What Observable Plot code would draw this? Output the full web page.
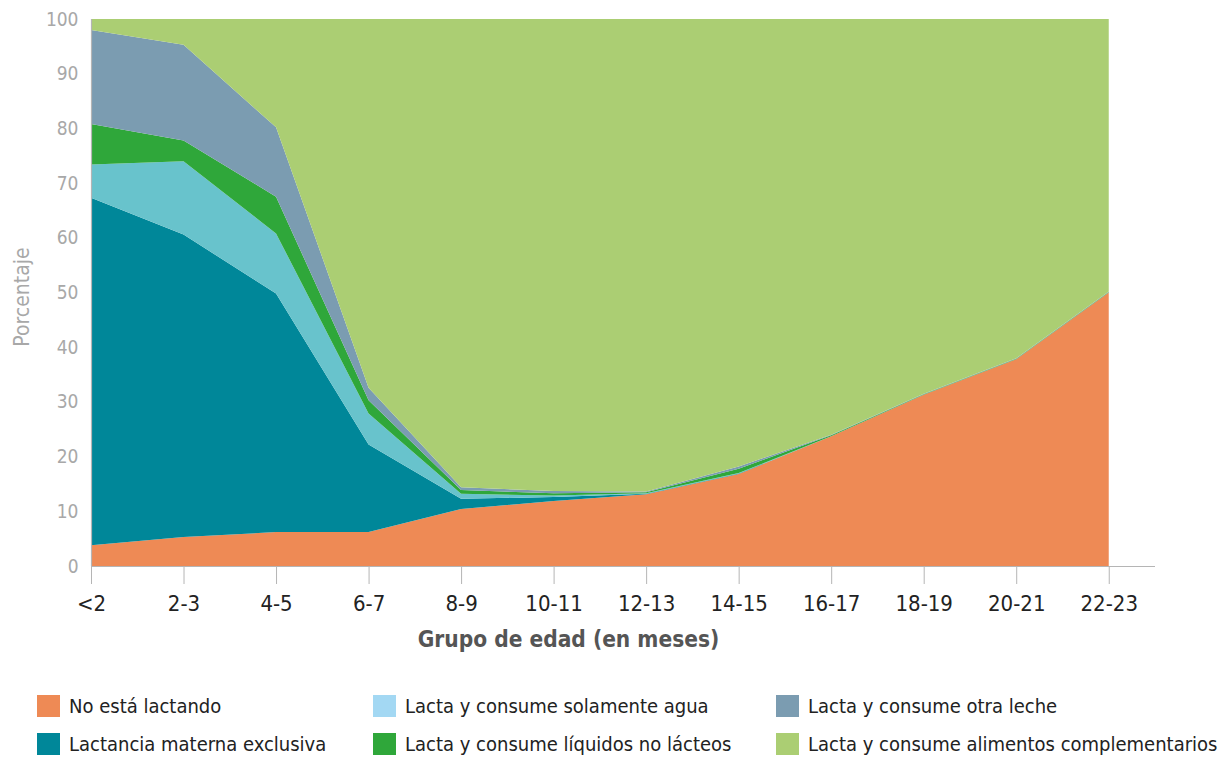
<!DOCTYPE html>
<html>
<head>
<meta charset="utf-8">
<script src="https://cdn.jsdelivr.net/npm/d3@7"></script>
<script src="https://cdn.jsdelivr.net/npm/@observablehq/plot@0.6"></script>
<style>
  body { margin: 0; background: #fff; }
  #chart { position: relative; width: 1224px; }
  #chart svg, #chart svg text { font-stretch: condensed; }
  #legend { position: relative; width: 1224px; height: 96px; font-family: "DejaVu Sans Condensed", "DejaVu Sans", sans-serif; font-stretch: condensed; font-size: 20px; color: #222; }
  .item { position: absolute; display: flex; align-items: center; white-space: nowrap; }
  .sw { width: 23px; height: 22px; margin-right: 9px; }
</style>
</head>
<body>
<div id="chart"></div>
<div id="legend"></div>
<script>
const ages = ["<2","2-3","4-5","6-7","8-9","10-11","12-13","14-15","16-17","18-19","20-21","22-23"];
const seriesNames = [
  "No está lactando",
  "Lactancia materna exclusiva",
  "Lacta y consume solamente agua",
  "Lacta y consume líquidos no lácteos",
  "Lacta y consume otra leche",
  "Lacta y consume alimentos complementarios"
];
const noLacta      = [3.8, 5.3, 6.2, 6.2, 10.4, 11.9, 13.1, 16.8, 23.7, 31.3, 37.8, 50.0];
const exclusiva    = [63.5, 55.3, 43.6, 16.0, 1.9, 0.7, 0.1, 0.1, 0.0, 0.0, 0.0, 0.0];
const agua         = [6.1, 13.4, 11.0, 5.7, 0.9, 0.3, 0.1, 0.1, 0.0, 0.0, 0.0, 0.0];
const liquidos     = [7.4, 3.8, 6.7, 2.4, 0.7, 0.4, 0.2, 0.8, 0.2, 0.1, 0.1, 0.1];
const otraLeche    = [17.2, 17.5, 12.7, 2.3, 0.5, 0.4, 0.1, 0.4, 0.1, 0.1, 0.1, 0.1];
const complementos = [2.0, 4.7, 19.8, 67.4, 85.6, 86.3, 86.4, 81.8, 76.0, 68.5, 62.0, 49.8];
const yTicks = [0,10,20,30,40,50,60,70,80,90,100];

const areaColors   = ["#ee8a55", "#008799", "#68c3cc", "#2fa73a", "#7b9cb1", "#abce73"];
const legendColors = ["#ee8a55", "#008799", "#a3d8f3", "#2fa73a", "#7b9cb1", "#abce73"];

const allSeries = [noLacta, exclusiva, agua, liquidos, otraLeche, complementos];
const data = [];
seriesNames.forEach((s, k) => {
  allSeries[k].forEach((v, i) => data.push({i, age: ages[i], series: s, value: v}));
});

const font = `"DejaVu Sans Condensed", "DejaVu Sans", sans-serif`;

const chart = Plot.plot({
  width: 1224,
  height: 665,
  marginLeft: 91,
  marginRight: 69,
  marginTop: 19,
  marginBottom: 99,
  style: {fontFamily: font, fontStretch: "condensed", background: "#fff"},
  x: {domain: [0, 11.5], axis: null},
  y: {domain: [0, 100], axis: null},
  color: {domain: seriesNames, range: areaColors},
  marks: [
    Plot.areaY(data, {x: "i", y: "value", fill: "series", order: seriesNames, curve: "linear"}),
    Plot.ruleY([0], {x1: 0, x2: 11.5, stroke: "#b5b5b5", strokeWidth: 1.2}),
    Plot.ruleX([0], {y1: 0, y2: 100, stroke: "#b5b5b5", strokeWidth: 1.2}),
    Plot.axisX({ticks: d3.range(ages.length), tickFormat: d => ages[d], tickSize: 18, tickPadding: 11,
      stroke: "#b5b5b5", fill: "#222", fontSize: 22, label: null}),
    Plot.axisY({ticks: yTicks, tickSize: 0, tickPadding: 13, fill: "#a8a8a8", fontSize: 19, label: null}),
    Plot.text(["Grupo de edad (en meses)"], {frameAnchor: "bottom", lineAnchor: "middle", textAnchor: "middle",
      dy: 73, dx: -55, text: d => d, fontWeight: "bold", fontSize: 22.5, fill: "#555"}),
    Plot.text(["Porcentaje"], {frameAnchor: "left", lineAnchor: "middle", textAnchor: "middle", dx: -69, dy: 4,
      rotate: -90, text: d => d, fontSize: 21, fill: "#a8a8a8"})
  ]
});
document.getElementById("chart").appendChild(chart);

const legend = document.getElementById("legend");
const pos = [
  {x: 37, y: 29}, {x: 37, y: 67},
  {x: 373, y: 29}, {x: 373, y: 67},
  {x: 776, y: 29}, {x: 776, y: 67}
];
seriesNames.forEach((name, k) => {
  const it = document.createElement("div");
  it.className = "item";
  it.style.left = pos[k].x + "px";
  it.style.top = pos[k].y + "px";
  it.innerHTML = `<div class="sw" style="background:${legendColors[k]}"></div><span>${name}</span>`;
  legend.appendChild(it);
});
</script>
</body>
</html>
